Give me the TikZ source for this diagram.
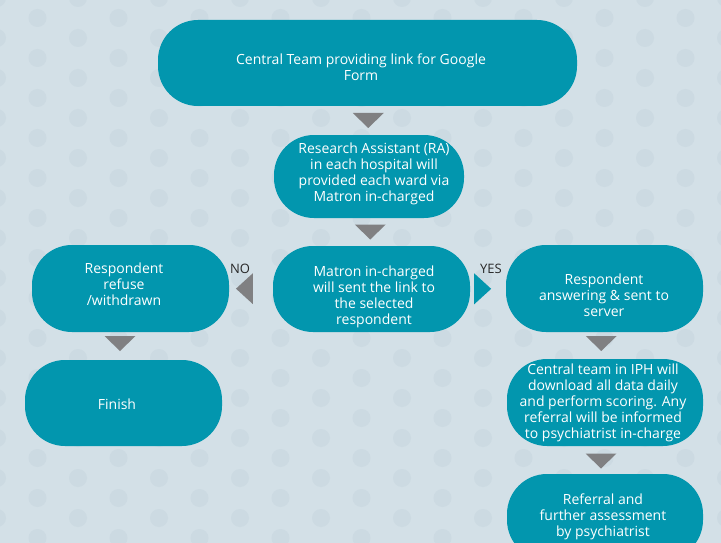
\documentclass[tikz,border=0pt]{standalone}
\usepackage{fontspec}
\setmainfont{Open Sans}
\usetikzlibrary{calc}
\definecolor{bgc}{RGB}{211,224,231}
\definecolor{dotc}{RGB}{204,218,226}
\definecolor{teal}{RGB}{2,150,174}
\definecolor{trig}{RGB}{128,128,130}
\definecolor{lblc}{RGB}{40,40,40}
\tikzset{
  box/.style={fill=teal, rounded corners=40pt, inner sep=0pt},
  txt/.style={text=white, align=center, font=\fontsize{14}{16}\selectfont, inner sep=0pt},
  lbl/.style={text=lblc, font=\fontsize{13}{15}\selectfont, inner sep=0pt},
}
\begin{document}
\begin{tikzpicture}[x=1pt,y=-1pt]
\useasboundingbox (0,0) rectangle (721,543);
\begin{scope}
\clip (0,0) rectangle (721,543);
\fill[bgc] (0,0) rectangle (721,543);
\foreach \i in {0,...,9}{
  \foreach \j in {0,...,14}{
    \fill[dotc] (-3+81*\i,-2+40*\j) circle (9);
    \fill[dotc] (37.5+81*\i,18+40*\j) circle (9);
  }
}
\end{scope}
% boxes
\node[box, minimum width=419, minimum height=86] (b1) at (367.5,63) {};
\node[txt] (t1) at (361,67) {Central Team providing link for Google\\Form};
\node[box, minimum width=190, minimum height=83] (b2) at (369,176.5) {};
\node[txt] (t2) at (374,174) {Research Assistant (RA)\\in each hospital will\\provided each ward via\\Matron in-charged};
\node[box, minimum width=197, minimum height=86] (b3) at (371.5,289) {};
\node[txt] (t3) at (374,297) {Matron in-charged\\will sent the link to\\the selected\\respondent};
\node[box, minimum width=197, minimum height=87] (l1) at (130.5,288.5) {};
\node[txt] (tl1) at (124,284) {Respondent\\refuse\\/withdrawn};
\node[box, minimum width=197, minimum height=86] (l2) at (123.5,403) {};
\node[txt] (tl2) at (117,404) {Finish};
\node[box, minimum width=197, minimum height=87] (r1) at (604.5,288.5) {};
\node[txt] (tr1) at (604,295) {Respondent\\answering \& sent to\\server};
\node[box, minimum width=196, minimum height=87] (r2) at (605,402.5) {};
\node[txt] (tr2) at (603,402.5) {Central team in IPH will\\download all data daily\\and perform scoring. Any\\referral will be informed\\to psychiatrist in-charge};
\node[box, minimum width=196, minimum height=86] (r3) at (605,517) {};
\node[txt] (tr3) at (603,517) {Referral and\\further assessment\\by psychiatrist};
% labels
\node[lbl] (no) at (240,269) {NO};
\node[lbl] (yes) at (491,269) {YES};
% connectors (triangles)
\coordinate (a1) at ($(b1.south)!0.5!(b2.north)$);
\fill[trig] ($(a1)+(-15.5,-7.5)$) -- ++(31,0) -- ++(-15.5,15) -- cycle;
\coordinate (a2) at ($(b2.south)!0.5!(b3.north)$);
\fill[trig] ($(a2)+(-15.5,-7.5)$) -- ++(31,0) -- ++(-15.5,15) -- cycle;
\coordinate (a3) at ($(l1.south)!0.5!(l2.north)+(-7,-2.5)$);
\fill[trig] ($(a3)+(-15.5,-7.5)$) -- ++(31,0) -- ++(-15.5,15) -- cycle;
\coordinate (a4) at ($(r1.south)!0.5!(r2.north)+(-3.5,-2)$);
\fill[trig] ($(a4)+(-15.5,-7.5)$) -- ++(31,0) -- ++(-15.5,15) -- cycle;
\coordinate (a5) at ($(r2.south)!0.5!(r3.north)+(-4,1)$);
\fill[trig] ($(a5)+(-15.5,-7.5)$) -- ++(31,0) -- ++(-15.5,15) -- cycle;
\coordinate (a6) at ($(l1.east)!0.35!(b3.west)$);
\fill[trig] ($(a6)+(8.5,-15.5)$) -- ++(0,31) -- ++(-17,-15.5) -- cycle;
\coordinate (a7) at ($(b3.east)!0.35!(r1.west)$);
\fill[teal] ($(a7)+(-8.5,-15.5)$) -- ++(0,31) -- ++(17,-15.5) -- cycle;
\end{tikzpicture}
\end{document}
